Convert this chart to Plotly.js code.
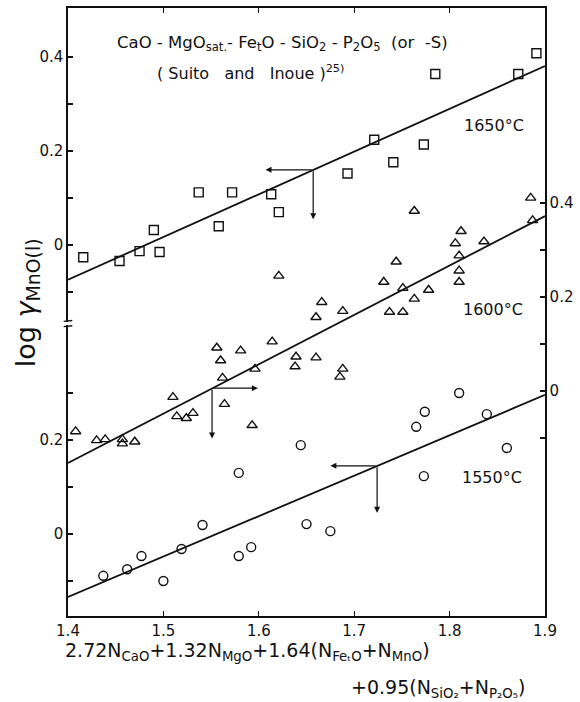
<!DOCTYPE html>
<html>
<head>
<meta charset="utf-8">
<script src="https://cdn.plot.ly/plotly-3.0.1.min.js"></script>
<style>html,body{margin:0;padding:0;background:#fff;}#chart{width:580px;height:702px;}</style>
</head>
<body>
<div id="chart"></div>
<script>
// ---- data ----
// 1650 °C (upper left scale)
var x1650 = [1.416,1.454,1.475,1.490,1.496,1.537,1.558,1.572,1.613,1.621,1.693,1.721,1.741,1.773,1.785,1.872,1.891];
var y1650 = [-0.026,-0.034,-0.013,0.032,-0.015,0.112,0.040,0.112,0.108,0.070,0.152,0.224,0.176,0.214,0.364,0.364,0.408];
var fit1650x = [1.4, 1.9];
var fit1650y = [-0.074, 0.381];

// 1600 °C (right scale)
var x1600 = [1.408,1.430,1.439,1.457,1.457,1.470,1.510,1.514,1.524,1.531,1.556,1.560,1.562,1.564,1.581,1.596,1.593,1.614,1.621,1.639,1.638,1.660,1.660,1.666,1.688,1.688,1.685,1.731,1.737,1.744,1.751,1.751,1.763,1.763,1.778,1.806,1.810,1.810,1.810,1.812,1.836,1.885,1.887];
var y1600 = [-0.086,-0.105,-0.103,-0.103,-0.112,-0.108,-0.013,-0.054,-0.058,-0.047,0.092,0.065,0.028,-0.028,0.086,0.047,-0.073,0.105,0.245,0.073,0.052,0.157,0.071,0.189,0.170,0.047,0.030,0.232,0.168,0.275,0.219,0.168,0.196,0.383,0.215,0.314,0.288,0.256,0.232,0.340,0.318,0.411,0.363];
var fit1600x = [1.4, 1.9];
var fit1600y = [-0.153, 0.372];

// 1550 °C (lower left scale)
var x1550 = [1.437,1.462,1.477,1.500,1.519,1.541,1.579,1.579,1.592,1.644,1.650,1.675,1.765,1.774,1.773,1.810,1.839,1.860];
var y1550 = [-0.089,-0.075,-0.047,-0.100,-0.032,0.019,0.130,-0.047,-0.028,0.189,0.021,0.006,0.228,0.260,0.123,0.300,0.255,0.183];
var fit1550x = [1.4, 1.9];
var fit1550y = [-0.134, 0.296];

// reading arrows: [junction x, junction y, horizontal tip x, vertical tip y]
var arrow1650 = [1.657, 0.160, 1.607, 0.055];
var arrow1600 = [1.551, 0.006, 1.599, -0.101];
var arrow1550 = [1.724, 0.145, 1.675, 0.045];

// axes / ticks
var xTicks = [1.4, 1.5, 1.6, 1.7, 1.8, 1.9];
var xTickText = ['1.4', '1.5', '1.6', '1.7', '1.8', '1.9'];
var upTicks = [-0.1, 0, 0.1, 0.2, 0.3, 0.4];
var upTickText = ['', '0', '', '0.2', '', '0.4'];
var lowTicks = [-0.1, 0, 0.1, 0.2, 0.3];
var lowTickText = ['', '0', '', '0.2', ''];
var rTicks = [-0.1, 0, 0.1, 0.2, 0.3, 0.4];
var rTickText = ['', '0', '', '0.2', '', '0.4'];

var FONT = 'DejaVu Sans, Arial, sans-serif';
var INK = '#111';

var mk = function (sym) {
  return {symbol: sym, size: 9, color: INK, line: {color: INK, width: 1.4}};
};

var traces = [
  {x: x1650, y: y1650, yaxis: 'y2', mode: 'markers', marker: mk('square-open'), showlegend: false},
  {x: fit1650x, y: fit1650y, yaxis: 'y2', mode: 'lines', line: {color: INK, width: 1.8}, showlegend: false},
  {x: x1600, y: y1600, yaxis: 'y3', mode: 'markers', marker: mk('triangle-up-open'), showlegend: false},
  {x: fit1600x, y: fit1600y, yaxis: 'y3', mode: 'lines', line: {color: INK, width: 1.8}, showlegend: false},
  {x: x1550, y: y1550, yaxis: 'y', mode: 'markers', marker: mk('circle-open'), showlegend: false},
  {x: fit1550x, y: fit1550y, yaxis: 'y', mode: 'lines', line: {color: INK, width: 1.8}, showlegend: false}
];

function arrowPair(a, yref) {
  var common = {xref: 'x', yref: yref, axref: 'x', ayref: yref, text: '', showarrow: true,
    arrowhead: 2, arrowsize: 1, arrowwidth: 1.2, arrowcolor: INK};
  return [
    Object.assign({}, common, {x: a[2], y: a[1], ax: a[0], ay: a[1]}),
    Object.assign({}, common, {x: a[0], y: a[3], ax: a[0], ay: a[1]})
  ];
}

var tickFont = {family: FONT, size: 15, color: INK};
var axisCommon = {showgrid: false, zeroline: false, showline: true, linecolor: INK, linewidth: 1.6,
  ticks: 'inside', ticklen: 5, tickwidth: 1.4, tickcolor: INK, tickfont: tickFont, tickmode: 'array', fixedrange: true};

var layout = {
  width: 580, height: 702,
  margin: {l: 68, r: 35, t: 8, b: 86},
  paper_bgcolor: '#fff', plot_bgcolor: '#fff',
  font: {family: FONT, color: INK},
  showlegend: false,
  xaxis: Object.assign({}, axisCommon, {range: [1.4, 1.9], tickvals: xTicks, ticktext: xTickText, mirror: 'ticks'}),
  yaxis: Object.assign({}, axisCommon, {range: [-0.1745, 1.1191], tickvals: lowTicks, ticktext: lowTickText}),
  yaxis2: Object.assign({}, axisCommon, {range: [-0.7894, 0.5043], tickvals: upTicks, ticktext: upTickText,
    overlaying: 'y', side: 'left', anchor: 'x'}),
  yaxis3: Object.assign({}, axisCommon, {range: [-0.4787, 0.8149], tickvals: rTicks, ticktext: rTickText,
    overlaying: 'y', side: 'right', anchor: 'x'}),
  shapes: [
    {type: 'rect', xref: 'paper', yref: 'paper', x0: -0.012, x1: 0.012, y0: 0.4785, y1: 0.4835,
      fillcolor: '#fff', line: {width: 0}, layer: 'above'},
    {type: 'line', xref: 'paper', yref: 'paper', x0: -0.009, x1: 0.009, y0: 0.4845, y1: 0.4860,
      line: {color: INK, width: 1.4}, layer: 'above'},
    {type: 'line', xref: 'paper', yref: 'paper', x0: -0.009, x1: 0.009, y0: 0.4760, y1: 0.4775,
      line: {color: INK, width: 1.4}, layer: 'above'}
  ],
  annotations: [].concat(
    arrowPair(arrow1650, 'y2'),
    arrowPair(arrow1600, 'y3'),
    arrowPair(arrow1550, 'y'),
    [
      {xref: 'paper', yref: 'paper', x: 0.0985, y: 0.9424, xanchor: 'left', yanchor: 'middle', showarrow: false,
        text: 'CaO - MgO<sub>sat.</sub>- Fe<sub>t</sub>O - SiO<sub>2</sub> - P<sub>2</sub>O<sub>5</sub>  (or  -S)',
        font: {family: FONT, size: 16.5, color: INK}},
      {xref: 'paper', yref: 'paper', x: 0.1824, y: 0.8947, xanchor: 'left', yanchor: 'middle', showarrow: false,
        text: '( Suito   and   Inoue )<sup>25)</sup>', font: {family: FONT, size: 16, color: INK}},
      {xref: 'paper', yref: 'paper', x: 0.826, y: 0.806, xanchor: 'left', yanchor: 'middle', showarrow: false,
        text: '1650°C', font: {family: FONT, size: 16, color: INK}},
      {xref: 'paper', yref: 'paper', x: 0.824, y: 0.5033, xanchor: 'left', yanchor: 'middle', showarrow: false,
        text: '1600°C', font: {family: FONT, size: 16, color: INK}},
      {xref: 'paper', yref: 'paper', x: 0.822, y: 0.2286, xanchor: 'left', yanchor: 'middle', showarrow: false,
        text: '1550°C', font: {family: FONT, size: 16, color: INK}},
      {xref: 'paper', yref: 'paper', x: -0.086, y: 0.516, xanchor: 'center', yanchor: 'middle', showarrow: false,
        textangle: -90, text: 'log <i>γ</i><sub>MnO(l)</sub>',
        font: {family: FONT, size: 27, color: INK}},
      {xref: 'paper', yref: 'paper', x: -0.0105, y: -0.058, xanchor: 'left', yanchor: 'middle', showarrow: false,
        text: '2.72N<sub>CaO</sub>+1.32N<sub>MgO</sub>+1.64(N<sub>FeₜO</sub>+N<sub>MnO</sub>)',
        font: {family: FONT, size: 19, color: INK}},
      {xref: 'paper', yref: 'paper', x: 0.9644, y: -0.12, xanchor: 'right', yanchor: 'middle', showarrow: false,
        text: '+0.95(N<sub>SiO₂</sub>+N<sub>P₂O₅</sub>)',
        font: {family: FONT, size: 19, color: INK}}
    ]
  )
};

Plotly.newPlot('chart', traces, layout, {displayModeBar: false, staticPlot: true});
</script>
</body>
</html>
